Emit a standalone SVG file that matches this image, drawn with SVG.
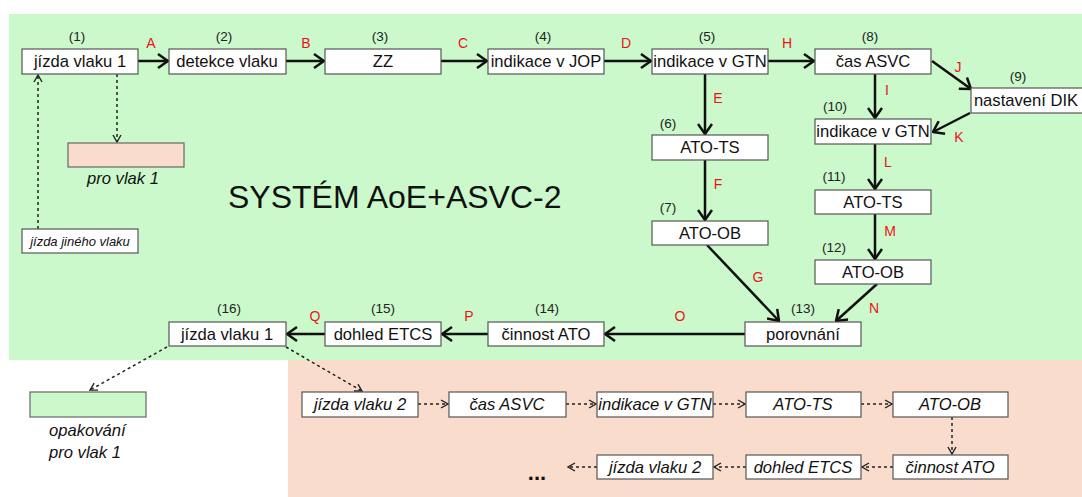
<svg xmlns="http://www.w3.org/2000/svg" width="1082" height="497" viewBox="0 0 1082 497">
<defs>
<style>
.box{fill:#fff;stroke:#555;stroke-width:1.2}
.t{font-family:"Liberation Sans",Arial,sans-serif;font-size:16.6px;fill:#111;text-anchor:middle}
.ti{font-family:"Liberation Sans",Arial,sans-serif;font-size:16.6px;font-style:italic;fill:#111;text-anchor:middle}
.n{font-family:"Liberation Sans",Arial,sans-serif;font-size:13.5px;fill:#222;text-anchor:middle}
.r{font-family:"Liberation Sans",Arial,sans-serif;font-size:14px;fill:#e8141a;text-anchor:middle}
.s{fill:none;stroke:#111;stroke-width:2.5;marker-end:url(#ah)}
.d{fill:none;stroke:#222;stroke-width:1.5;stroke-dasharray:3 3;marker-end:url(#dh)}
</style>
<marker id="ah" viewBox="0 0 12 16" markerWidth="12" markerHeight="16" refX="11" refY="8" orient="auto" markerUnits="userSpaceOnUse">
<path d="M1,1 L11,8 L1,15" fill="none" stroke="#111" stroke-width="2.5"/>
</marker>
<marker id="dh" viewBox="0 0 9 10" markerWidth="9" markerHeight="10" refX="8" refY="5" orient="auto" markerUnits="userSpaceOnUse">
<path d="M1,1 L8,5 L1,9" fill="none" stroke="#222" stroke-width="1.4"/>
</marker>
</defs>
<rect x="0" y="0" width="1082" height="497" fill="#fff"/>
<rect id="green-area" x="9" y="14" width="1073" height="346" fill="#ccf9cc"/>
<rect id="peach-area" x="288" y="360" width="794" height="137" fill="#f9dccc"/>
<text x="228" y="208" font-family="Liberation Sans, Arial, sans-serif" font-size="32" fill="#111">SYSTÉM AoE+ASVC-2</text>

<g id="connectors">
<line class="s" x1="138" y1="61" x2="168" y2="61"/>
<line class="s" x1="286" y1="61" x2="324" y2="61"/>
<line class="s" x1="441" y1="61" x2="487" y2="61"/>
<line class="s" x1="604" y1="61" x2="651" y2="61"/>
<line class="s" x1="768" y1="61" x2="814" y2="61"/>
<line class="s" x1="705" y1="74" x2="705" y2="134"/>
<line class="s" x1="705" y1="160" x2="705" y2="220"/>
<line class="s" x1="707" y1="245" x2="779" y2="321"/>
<line class="s" x1="875" y1="74" x2="875" y2="118"/>
<line class="s" x1="932" y1="61" x2="971" y2="89"/>
<line class="s" x1="970" y1="113" x2="933" y2="132"/>
<line class="s" x1="875" y1="144" x2="875" y2="189"/>
<line class="s" x1="875" y1="214" x2="875" y2="259"/>
<line class="s" x1="877" y1="284" x2="836" y2="321"/>
<line class="s" x1="745" y1="334" x2="605" y2="334"/>
<line class="s" x1="488" y1="334" x2="442" y2="334"/>
<line class="s" x1="325" y1="334" x2="287" y2="334"/>
<line class="d" x1="117" y1="74" x2="117" y2="142"/>
<line class="d" x1="38" y1="229" x2="38" y2="75"/>
<line class="d" x1="167" y1="347" x2="90" y2="390"/>
<line class="d" x1="286" y1="347" x2="362" y2="391"/>
<line class="d" x1="418" y1="404" x2="448" y2="404"/>
<line class="d" x1="566" y1="404" x2="596" y2="404"/>
<line class="d" x1="713" y1="404" x2="745" y2="404"/>
<line class="d" x1="861" y1="404" x2="892" y2="404"/>
<line class="d" x1="952" y1="417" x2="952" y2="454"/>
<line class="d" x1="893" y1="467" x2="862" y2="467"/>
<line class="d" x1="746" y1="467" x2="714" y2="467"/>
<line class="d" x1="597" y1="467" x2="568" y2="467"/>
</g>

<g id="edge-labels">
<text class="r" x="151" y="48">A</text>
<text class="r" x="306" y="48">B</text>
<text class="r" x="463" y="48">C</text>
<text class="r" x="626" y="48">D</text>
<text class="r" x="787" y="48">H</text>
<text class="r" x="718" y="103">E</text>
<text class="r" x="718" y="189">F</text>
<text class="r" x="758" y="282">G</text>
<text class="r" x="887" y="95">I</text>
<text class="r" x="958" y="72">J</text>
<text class="r" x="959" y="142">K</text>
<text class="r" x="888" y="167">L</text>
<text class="r" x="890" y="236">M</text>
<text class="r" x="874" y="313">N</text>
<text class="r" x="680" y="321">O</text>
<text class="r" x="469" y="321">P</text>
<text class="r" x="315" y="321">Q</text>
</g>

<g id="n1"><text class="n" x="77" y="41">(1)</text><rect class="box" x="22" y="49" width="116" height="25"/><text class="t" x="80" y="67">jízda vlaku 1</text></g>
<g id="n2"><text class="n" x="224" y="41">(2)</text><rect class="box" x="169" y="49" width="117" height="25"/><text class="t" x="227" y="67">detekce vlaku</text></g>
<g id="n3"><text class="n" x="380" y="41">(3)</text><rect class="box" x="325" y="49" width="116" height="25"/><text class="t" x="383" y="67">ZZ</text></g>
<g id="n4"><text class="n" x="543" y="41">(4)</text><rect class="box" x="488" y="49" width="116" height="25"/><text class="t" x="546" y="67">indikace v JOP</text></g>
<g id="n5"><text class="n" x="707" y="41">(5)</text><rect class="box" x="652" y="49" width="116" height="25"/><text class="t" x="710" y="67">indikace v GTN</text></g>
<g id="n8"><text class="n" x="870" y="41">(8)</text><rect class="box" x="815" y="49" width="116" height="25"/><text class="t" x="873" y="67">čas ASVC</text></g>
<g id="n9"><text class="n" x="1018" y="81">(9)</text><rect class="box" x="971" y="88" width="114" height="25"/><text class="t" x="1026" y="106">nastavení DIK</text></g>
<g id="n10"><text class="n" x="835" y="111">(10)</text><rect class="box" x="815" y="119" width="116" height="25"/><text class="t" x="873" y="137">indikace v GTN</text></g>
<g id="n6"><text class="n" x="668" y="128">(6)</text><rect class="box" x="652" y="135" width="116" height="25"/><text class="t" x="710" y="153">ATO-TS</text></g>
<g id="n7"><text class="n" x="668" y="212">(7)</text><rect class="box" x="652" y="221" width="116" height="24"/><text class="t" x="710" y="239">ATO-OB</text></g>
<g id="n11"><text class="n" x="834" y="181">(11)</text><rect class="box" x="815" y="190" width="116" height="24"/><text class="t" x="873" y="208">ATO-TS</text></g>
<g id="n12"><text class="n" x="834" y="252">(12)</text><rect class="box" x="815" y="260" width="116" height="24"/><text class="t" x="873" y="278">ATO-OB</text></g>
<g id="n13"><text class="n" x="803" y="313">(13)</text><rect class="box" x="745" y="322" width="116" height="24"/><text class="t" x="803" y="340">porovnání</text></g>
<g id="n14"><text class="n" x="547" y="313">(14)</text><rect class="box" x="488" y="322" width="116" height="24"/><text class="t" x="546" y="340">činnost ATO</text></g>
<g id="n15"><text class="n" x="383" y="313">(15)</text><rect class="box" x="325" y="322" width="116" height="24"/><text class="t" x="383" y="340">dohled ETCS</text></g>
<g id="n16"><text class="n" x="229" y="313">(16)</text><rect class="box" x="169" y="322" width="117" height="24"/><text class="t" x="227" y="340">jízda vlaku 1</text></g>

<g id="pro-vlak-1"><rect x="68" y="143" width="116" height="24" fill="#f9dccc" stroke="#666" stroke-width="1.2"/><text class="ti" x="123" y="184">pro vlak 1</text></g>
<g id="jizda-jineho"><rect class="box" x="22" y="229" width="116" height="24"/><text x="80" y="246" font-family="Liberation Sans, Arial, sans-serif" font-size="13" font-style="italic" fill="#111" text-anchor="middle">jízda jiného vlaku</text></g>
<g id="opakovani"><rect x="30" y="392" width="116" height="25" fill="#ccf9cc" stroke="#666" stroke-width="1.2"/><text x="49" y="436" font-family="Liberation Sans, Arial, sans-serif" font-size="16.6" font-style="italic" fill="#111">opakování</text><text x="49" y="458" font-family="Liberation Sans, Arial, sans-serif" font-size="16.6" font-style="italic" fill="#111">pro vlak 1</text></g>

<g id="b1"><rect class="box" x="302" y="392" width="116" height="25"/><text class="ti" x="360" y="410">jízda vlaku 2</text></g>
<g id="b2"><rect class="box" x="449" y="392" width="117" height="25"/><text class="ti" x="507" y="410">čas ASVC</text></g>
<g id="b3"><rect class="box" x="597" y="392" width="116" height="25"/><text class="ti" x="655" y="410">indikace v GTN</text></g>
<g id="b4"><rect class="box" x="746" y="392" width="115" height="25"/><text class="ti" x="803" y="410">ATO-TS</text></g>
<g id="b5"><rect class="box" x="893" y="392" width="115" height="25"/><text class="ti" x="950" y="410">ATO-OB</text></g>
<g id="b6"><rect class="box" x="893" y="455" width="115" height="24"/><text class="ti" x="950" y="473">činnost ATO</text></g>
<g id="b7"><rect class="box" x="746" y="455" width="115" height="24"/><text class="ti" x="803" y="473">dohled ETCS</text></g>
<g id="b8"><rect class="box" x="597" y="455" width="116" height="24"/><text class="ti" x="655" y="473">jízda vlaku 2</text></g>
<text x="537" y="480" font-family="Liberation Sans, Arial, sans-serif" font-size="22" font-weight="bold" fill="#111" text-anchor="middle">...</text>
</svg>
